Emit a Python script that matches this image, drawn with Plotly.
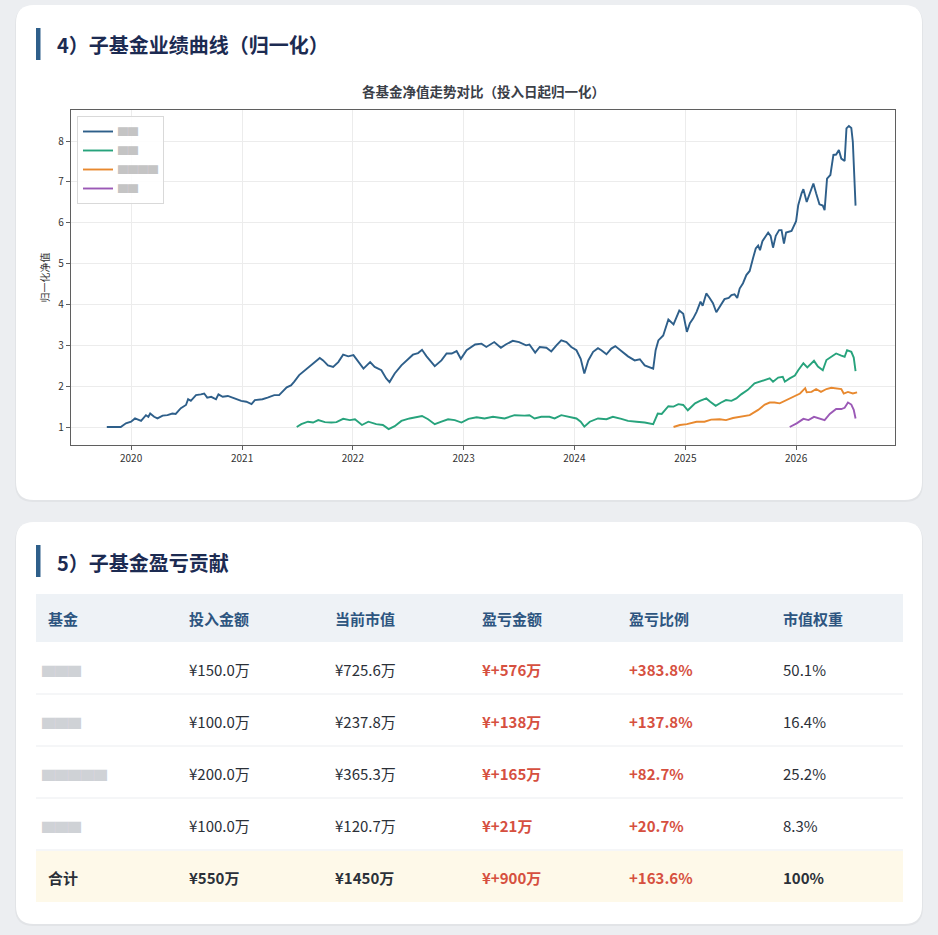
import plotly.graph_objects as go

W, H = 938, 935

# ---- chart data (normalised NAV) ----
blue_dates = ["2019-10-13", "2019-11-06", "2019-11-28", "2019-12-15", "2020-01-01", "2020-01-14",
              "2020-02-03", "2020-02-19", "2020-02-27", "2020-03-04", "2020-03-17", "2020-03-28",
              "2020-04-14", "2020-04-30", "2020-05-16", "2020-05-27", "2020-06-13", "2020-06-30",
              "2020-07-07", "2020-07-16", "2020-08-02", "2020-08-18", "2020-08-29", "2020-09-08",
              "2020-09-21", "2020-10-07", "2020-10-15", "2020-10-29", "2020-11-15", "2020-12-07",
              "2020-12-29", "2021-01-15", "2021-02-01", "2021-02-12", "2021-02-22", "2021-03-09",
              "2021-03-26", "2021-04-17", "2021-05-03", "2021-05-14", "2021-05-28", "2021-06-11",
              "2021-06-22", "2021-07-08", "2021-07-25", "2021-08-17", "2021-09-14", "2021-09-25",
              "2021-10-11", "2021-10-28", "2021-11-14", "2021-11-30", "2021-12-17", "2022-01-03",
              "2022-01-19", "2022-02-05", "2022-02-27", "2022-03-14", "2022-04-05", "2022-04-21",
              "2022-05-02", "2022-05-19", "2022-06-10", "2022-07-02", "2022-07-18", "2022-08-04",
              "2022-08-17", "2022-09-01", "2022-09-12", "2022-09-28", "2022-10-20", "2022-11-06",
              "2022-11-23", "2022-12-09", "2022-12-23", "2023-01-11", "2023-02-08", "2023-03-01",
              "2023-03-17", "2023-04-12", "2023-05-04", "2023-05-20", "2023-06-12", "2023-07-03",
              "2023-07-26", "2023-08-06", "2023-08-25", "2023-09-09", "2023-10-01", "2023-10-17",
              "2023-11-03", "2023-11-19", "2023-12-06", "2023-12-22", "2024-01-08", "2024-01-22",
              "2024-02-03", "2024-02-16", "2024-03-03", "2024-03-19", "2024-03-30", "2024-04-16",
              "2024-05-02", "2024-05-15", "2024-06-04", "2024-06-26", "2024-07-18", "2024-08-04",
              "2024-08-20", "2024-09-06", "2024-09-17", "2024-09-25", "2024-10-04", "2024-10-20",
              "2024-11-06", "2024-11-23", "2024-12-12", "2024-12-25", "2025-01-06", "2025-01-16",
              "2025-01-27", "2025-02-07", "2025-02-20", "2025-02-27", "2025-03-11", "2025-03-22",
              "2025-04-02", "2025-04-13", "2025-04-24", "2025-05-10", "2025-05-24", "2025-06-02",
              "2025-06-12", "2025-06-21", "2025-06-29", "2025-07-10", "2025-07-21", "2025-08-01",
              "2025-08-12", "2025-08-21", "2025-08-29", "2025-09-04", "2025-09-12", "2025-09-23",
              "2025-10-01", "2025-10-09", "2025-10-17", "2025-10-26", "2025-11-06", "2025-11-14",
              "2025-11-22", "2025-11-29", "2025-12-17", "2026-01-01", "2026-01-08", "2026-01-19",
              "2026-01-25", "2026-02-05", "2026-02-16", "2026-02-27", "2026-03-08", "2026-03-19",
              "2026-03-30", "2026-04-05", "2026-04-13", "2026-04-24", "2026-05-04", "2026-05-13",
              "2026-05-22", "2026-05-30", "2026-06-10", "2026-06-16", "2026-06-24", "2026-07-02",
              "2026-07-07", "2026-07-10", "2026-07-16"]
blue_vals = [1.00, 1.00, 1.00, 1.09, 1.13, 1.21, 1.15, 1.29, 1.25, 1.33, 1.25, 1.21,
             1.28, 1.29, 1.33, 1.32, 1.46, 1.54, 1.68, 1.64, 1.78, 1.80, 1.82, 1.72,
             1.74, 1.68, 1.80, 1.74, 1.76, 1.70, 1.64, 1.62, 1.56, 1.66, 1.67, 1.68,
             1.72, 1.78, 1.78, 1.86, 1.97, 2.02, 2.11, 2.27, 2.37, 2.51, 2.69, 2.63,
             2.51, 2.47, 2.59, 2.77, 2.73, 2.76, 2.61, 2.43, 2.59, 2.47, 2.39, 2.19,
             2.10, 2.31, 2.51, 2.67, 2.77, 2.81, 2.89, 2.73, 2.63, 2.49, 2.63, 2.80,
             2.80, 2.86, 2.67, 2.88, 3.02, 3.04, 2.96, 3.08, 2.94, 3.02, 3.11, 3.08,
             3.00, 3.02, 2.82, 2.96, 2.94, 2.85, 3.00, 3.12, 3.08, 2.96, 2.88, 2.67,
             2.31, 2.63, 2.84, 2.93, 2.88, 2.78, 2.92, 2.98, 2.86, 2.73, 2.63, 2.66,
             2.51, 2.47, 2.43, 2.88, 3.12, 3.24, 3.63, 3.51, 3.85, 3.77, 3.33, 3.54,
             3.66, 3.82, 4.07, 3.97, 4.27, 4.16, 4.03, 3.81, 3.94, 4.13, 4.16, 4.23,
             4.25, 4.16, 4.39, 4.52, 4.72, 4.82, 5.13, 5.37, 5.44, 5.33, 5.55, 5.66,
             5.76, 5.68, 5.39, 5.68, 5.82, 5.82, 5.49, 5.76, 5.80, 6.04, 6.43, 6.72,
             6.82, 6.51, 6.76, 6.96, 6.72, 6.45, 6.42, 6.31, 7.08, 7.17, 7.66, 7.67,
             7.78, 7.57, 7.51, 8.31, 8.37, 8.32, 7.98, 7.41, 6.42]

green_dates = ["2021-06-30", "2021-07-15", "2021-08-06", "2021-08-23", "2021-09-09", "2021-10-01",
               "2021-10-22", "2021-11-08", "2021-11-30", "2021-12-22", "2022-01-08", "2022-01-31",
               "2022-02-21", "2022-03-19", "2022-04-10", "2022-04-29", "2022-05-19", "2022-06-10",
               "2022-07-07", "2022-07-29", "2022-08-17", "2022-09-06", "2022-09-28", "2022-10-20",
               "2022-11-11", "2022-12-03", "2022-12-25", "2023-01-17", "2023-02-13", "2023-03-11",
               "2023-04-08", "2023-05-16", "2023-06-18", "2023-07-21", "2023-08-06", "2023-08-23",
               "2023-09-14", "2023-10-11", "2023-10-28", "2023-11-19", "2023-12-17", "2024-01-08",
               "2024-01-22", "2024-02-03", "2024-02-21", "2024-03-19", "2024-04-16", "2024-05-07",
               "2024-06-04", "2024-06-26", "2024-07-24", "2024-08-20", "2024-09-17", "2024-10-02",
               "2024-10-15", "2024-11-06", "2024-11-23", "2024-12-09", "2024-12-25", "2025-01-09",
               "2025-01-16", "2025-02-02", "2025-02-18", "2025-03-11", "2025-03-24", "2025-04-11",
               "2025-04-29", "2025-05-15", "2025-06-02", "2025-06-18", "2025-07-04", "2025-07-26",
               "2025-08-17", "2025-09-04", "2025-09-20", "2025-10-06", "2025-10-17", "2025-11-03",
               "2025-11-18", "2025-11-25", "2025-12-11", "2025-12-28", "2026-01-08", "2026-01-25",
               "2026-02-07", "2026-03-01", "2026-03-14", "2026-03-30", "2026-04-11", "2026-04-27",
               "2026-05-13", "2026-05-30", "2026-06-10", "2026-06-18", "2026-07-02", "2026-07-10",
               "2026-07-16"]
green_vals = [1.00, 1.07, 1.13, 1.11, 1.17, 1.12, 1.11, 1.12, 1.20, 1.17, 1.19, 1.05,
              1.13, 1.07, 1.05, 0.95, 1.02, 1.15, 1.21, 1.24, 1.27, 1.19, 1.07, 1.13,
              1.19, 1.17, 1.11, 1.20, 1.24, 1.21, 1.25, 1.21, 1.29, 1.28, 1.29, 1.21,
              1.25, 1.25, 1.21, 1.29, 1.25, 1.21, 1.13, 1.01, 1.13, 1.21, 1.19, 1.25,
              1.20, 1.15, 1.13, 1.11, 1.07, 1.33, 1.32, 1.51, 1.50, 1.56, 1.54, 1.41,
              1.46, 1.58, 1.64, 1.70, 1.62, 1.52, 1.60, 1.66, 1.64, 1.70, 1.80, 1.91,
              2.07, 2.11, 2.15, 2.19, 2.11, 2.21, 2.23, 2.11, 2.19, 2.26, 2.39, 2.56,
              2.46, 2.62, 2.48, 2.39, 2.64, 2.72, 2.80, 2.75, 2.72, 2.88, 2.84, 2.70,
              2.37]

orange_dates = ["2024-11-23", "2024-12-14", "2025-01-06", "2025-02-07", "2025-03-05", "2025-03-27",
                "2025-04-24", "2025-05-15", "2025-06-07", "2025-07-04", "2025-08-01", "2025-08-29",
                "2025-09-20", "2025-10-06", "2025-10-22", "2025-11-08", "2025-11-30", "2025-12-22",
                "2026-01-14", "2026-01-31", "2026-02-05", "2026-02-21", "2026-03-08", "2026-03-24",
                "2026-04-11", "2026-04-27", "2026-05-13", "2026-05-30", "2026-06-07", "2026-06-21",
                "2026-07-07", "2026-07-16", "2026-07-21"]
orange_vals = [1.00, 1.05, 1.07, 1.13, 1.13, 1.18, 1.19, 1.17, 1.22, 1.25, 1.29, 1.42,
               1.55, 1.60, 1.60, 1.58, 1.66, 1.72, 1.82, 1.95, 1.85, 1.86, 1.93, 1.86,
               1.93, 1.96, 1.95, 1.93, 1.82, 1.86, 1.82, 1.85, 1.85]

purple_dates = ["2025-12-11", "2026-01-03", "2026-01-25", "2026-02-11", "2026-03-01", "2026-03-19",
                "2026-04-05", "2026-04-22", "2026-05-13", "2026-05-30", "2026-06-10", "2026-06-21",
                "2026-07-02", "2026-07-10", "2026-07-16"]
purple_vals = [1.00, 1.09, 1.20, 1.17, 1.25, 1.20, 1.17, 1.32, 1.44, 1.44, 1.47, 1.60,
               1.55, 1.42, 1.21]

# fund names are blurred in the source, shown as redaction blocks
legend_names = ["▇▇", "▇▇", "▇▇▇▇", "▇▇"]
line_colors = ["#2e5f8a", "#27a37c", "#e8892f", "#9b59b6"]

year_ticks = ["2020-01-01", "2021-01-01", "2022-01-01", "2023-01-01",
              "2024-01-01", "2025-01-01", "2026-01-01"]
year_labels = ["2020", "2021", "2022", "2023", "2024", "2025", "2026"]

# ---- table data ----
headers = ["基金", "投入金额", "当前市值", "盈亏金额", "盈亏比例", "市值权重"]
fund_names = ["▇▇▇", "▇▇▇", "▇▇▇▇▇", "▇▇▇"]
invest = ["¥150.0万", "¥100.0万", "¥200.0万", "¥100.0万"]
market = ["¥725.6万", "¥237.8万", "¥365.3万", "¥120.7万"]
pnl = ["¥+576万", "¥+138万", "¥+165万", "¥+21万"]
pnl_pct = ["+383.8%", "+137.8%", "+82.7%", "+20.7%"]
weight = ["50.1%", "16.4%", "25.2%", "8.3%"]
total_row = ["合计", "¥550万", "¥1450万", "¥+900万", "+163.6%", "100%"]

FONT = "Noto Sans CJK SC"
RED = "#d6503f"
DARK = "#2b3038"
NAVY = "#1c2b52"
ACCENT = "#2e5f8a"
BLUR = "#cfd2d6"


def X(p):
    return p / W


def Y(p):
    return 1 - p / H


def rrect(x0, y0, x1, y1, r):
    rx, ry = r / W, r / H
    a, b = X(x0), X(x1)
    t, u = Y(y0), Y(y1)
    return (f"M{a + rx},{t} L{b - rx},{t} Q{b},{t} {b},{t - ry} L{b},{u + ry} "
            f"Q{b},{u} {b - rx},{u} L{a + rx},{u} Q{a},{u} {a},{u + ry} "
            f"L{a},{t - ry} Q{a},{t} {a + rx},{t} Z")


fig = go.Figure()

series = [(blue_dates, blue_vals), (green_dates, green_vals),
          (orange_dates, orange_vals), (purple_dates, purple_vals)]
for (d, v), name, col in zip(series, legend_names, line_colors):
    fig.add_trace(go.Scatter(x=d, y=v, mode="lines", name=name,
                             line=dict(color=col, width=1.9)))

fig.add_hline(y=1, line=dict(color="#b5b5b5", width=1, dash="dash"), layer="below")

shapes = []
# cards with faint shadow
for y0, y1 in [(5, 500), (522, 924)]:
    shapes.append(dict(type="path", path=rrect(15, y0 + 1, 923, y1 + 2, 18),
                       xref="paper", yref="paper", fillcolor="rgba(0,0,0,0.04)",
                       line=dict(width=0), layer="below"))
    shapes.append(dict(type="path", path=rrect(16, y0, 922, y1, 18),
                       xref="paper", yref="paper", fillcolor="white",
                       line=dict(width=0), layer="below"))
# section accent bars
for y0, y1 in [(28, 60), (545, 577)]:
    shapes.append(dict(type="rect", x0=X(36), x1=X(40.5), y0=Y(y1), y1=Y(y0),
                       xref="paper", yref="paper", fillcolor=ACCENT,
                       line=dict(width=0), layer="below"))

# table geometry
col_x = [46, 187, 333, 480, 627, 781]
tbl_l, tbl_r = 36, 903
head_top, head_bot = 594, 642
row_h = 52
shapes.append(dict(type="rect", x0=X(tbl_l), x1=X(tbl_r), y0=Y(head_bot), y1=Y(head_top),
                   xref="paper", yref="paper", fillcolor="#eef2f6",
                   line=dict(width=0), layer="below"))
n_rows = len(fund_names)
for i in range(1, n_rows + 1):
    ysep = head_bot + i * row_h
    shapes.append(dict(type="line", x0=X(tbl_l), x1=X(tbl_r), y0=Y(ysep), y1=Y(ysep),
                       xref="paper", yref="paper", line=dict(color="#ebedf0", width=1),
                       layer="below"))
tot_top = head_bot + n_rows * row_h + 1
shapes.append(dict(type="rect", x0=X(tbl_l), x1=X(tbl_r), y0=Y(tot_top + row_h - 1),
                   y1=Y(tot_top), xref="paper", yref="paper", fillcolor="#fef9e9",
                   line=dict(width=0), layer="below"))

ann = []
ann.append(dict(text="<b>4）子基金业绩曲线（归一化）</b>", x=X(55), y=Y(45),
                font=dict(size=20, color=NAVY, family=FONT)))
ann.append(dict(text="<b>5）子基金盈亏贡献</b>", x=X(55), y=Y(562),
                font=dict(size=20, color=NAVY, family=FONT)))
ann.append(dict(text="<b>各基金净值走势对比（投入日起归一化）</b>", x=X(483), y=Y(91),
                xanchor="center", font=dict(size=13.5, color="#3b4048", family=FONT)))

head_y = (head_top + head_bot) / 2
for cx, h in zip(col_x, headers):
    ann.append(dict(text=f"<b>{h}</b>", x=X(cx), y=Y(head_y),
                    font=dict(size=15, color="#2d5580", family=FONT)))

for i in range(n_rows):
    ry = head_bot + i * row_h + row_h / 2 + 1
    cells = [(fund_names[i], BLUR, False), (invest[i], DARK, False),
             (market[i], DARK, False), (pnl[i], RED, True),
             (pnl_pct[i], RED, True), (weight[i], DARK, False)]
    for cx, (txt, col, bold) in zip(col_x, cells):
        t = f"<b>{txt}</b>" if bold else txt
        fs = 13 if col == BLUR else 15
        ann.append(dict(text=t, x=X(cx - (6 if col == BLUR else 0)), y=Y(ry),
                        font=dict(size=fs, color=col, family=FONT)))

tot_y = tot_top + row_h / 2
tot_cols = [DARK, DARK, DARK, RED, RED, DARK]
for cx, txt, col in zip(col_x, total_row, tot_cols):
    ann.append(dict(text=f"<b>{txt}</b>", x=X(cx), y=Y(tot_y),
                    font=dict(size=15, color=col, family=FONT)))

for a in ann:
    a.update(xref="paper", yref="paper", showarrow=False)
    a.setdefault("xanchor", "left")
    a.setdefault("yanchor", "middle")

axis_common = dict(showline=True, linecolor="#5f5f5f", linewidth=1.2, mirror=True,
                   ticks="outside", ticklen=4, tickcolor="#5f5f5f", tickwidth=1,
                   showgrid=True, gridcolor="#ececec", gridwidth=1, zeroline=False,
                   tickfont=dict(size=10, color="#333333", family=FONT))

fig.update_layout(
    width=W, height=H,
    margin=dict(l=0, r=0, t=0, b=0),
    paper_bgcolor="#eceef1",
    plot_bgcolor="rgba(0,0,0,0)",
    font=dict(family=FONT),
    shapes=list(fig.layout.shapes) + shapes,
    annotations=ann,
    xaxis=dict(domain=[X(71), X(895)], range=["2019-06-17", "2026-11-23"],
               tickvals=year_ticks, ticktext=year_labels, **axis_common),
    yaxis=dict(domain=[Y(445), Y(110)], range=[0.56, 8.76], tickvals=list(range(1, 9)),
               title=dict(text="归一化净值", font=dict(size=10, color="#333333", family=FONT),
                          standoff=6),
               **axis_common),
    legend=dict(x=X(77), y=Y(116), xanchor="left", yanchor="top",
                bgcolor="rgba(255,255,255,0.9)", bordercolor="#d9d9d9", borderwidth=1,
                font=dict(size=10, color="#c4c4c4", family=FONT),
                itemwidth=30, tracegroupgap=0),
    showlegend=True,
)

# the page body has a default 8px margin; drop it so the figure fills the window
fig.write_html("out.html", config={"displayModeBar": False},
               post_script="document.body.style.margin='0';")
